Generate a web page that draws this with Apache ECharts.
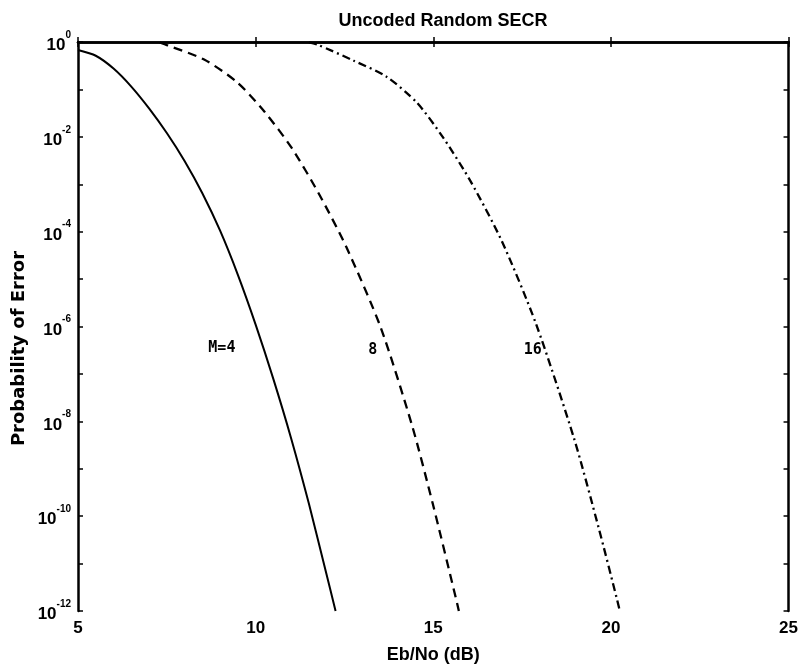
<!DOCTYPE html>
<html>
<head>
<meta charset="utf-8">
<script src="https://cdn.jsdelivr.net/npm/echarts@6/dist/echarts.min.js"></script>
<style>
  html, body { margin: 0; padding: 0; background: #fff; }
  #main { width: 801px; height: 669px; }
</style>
</head>
<body>
<div id="main"></div>
<script>
// Eb/No (dB) against log10 of the probability of error
var ebnoM4 = [5, 5.5, 6, 6.5, 7, 7.5, 8, 8.5, 9, 9.5, 10, 10.5, 11, 11.5, 12, 12.25];
var logPeM4 = [-0.17, -0.29, -0.56, -0.94, -1.4, -1.92, -2.51, -3.19, -3.98, -4.91, -5.96, -7.11, -8.36, -9.74, -11.24, -12];

var ebnoM8 = [7.3, 7.52, 8.55, 9.48, 10.25, 11.02, 11.78, 12.55, 13.52, 14.4, 14.99, 15.64, 15.72];
var logPeM8 = [-0.01, -0.07, -0.37, -0.85, -1.47, -2.24, -3.2, -4.32, -6.02, -8.08, -9.75, -11.74, -12];

var ebnoM16 = [11.5, 11.75, 12.75, 13.68, 14.54, 15.3, 16.06, 16.93, 17.89, 18.97, 19.66, 20.16, 20.25];
var logPeM16 = [-0.01, -0.06, -0.39, -0.73, -1.28, -2.04, -2.95, -4.2, -5.94, -8.38, -10.26, -11.72, -12];

var curveLabels = ['M=4', '8', '16'];
var labelX = [9.05, 13.3, 17.8];
var labelLogY = [-6.45, -6.5, -6.5];

function pairs(xs, ys) {
    return xs.map(function (x, i) { return [x, ys[i]]; });
}

var chart = echarts.init(document.getElementById('main'));

var font = 'Liberation Sans, Arial, sans-serif';
var axisBlack = { lineStyle: { color: '#000', width: 2.5 } };
var tickIn = { inside: true, length: 5, lineStyle: { color: '#000', width: 1.5 } };

var option = {
    backgroundColor: '#fff',
    animation: false,
    title: {
        text: 'Uncoded Random SECR',
        left: 438,
        textAlign: 'center',
        top: 7,
        textStyle: { fontFamily: font, fontSize: 18, fontWeight: 'bold', color: '#000' }
    },
    grid: { left: 78, right: 7, top: 42, bottom: 56 },
    xAxis: [
        {
            type: 'value',
            min: 5,
            max: 25,
            interval: 5,
            name: 'Eb/No (dB)',
            nameLocation: 'middle',
            nameGap: 35,
            nameTextStyle: { fontFamily: font, fontSize: 18, fontWeight: 'bold', color: '#000' },
            axisLine: axisBlack,
            axisTick: tickIn,
            axisLabel: { fontFamily: font, fontSize: 17, fontWeight: 'bold', color: '#000', margin: 9 },
            splitLine: { show: false }
        },
        {
            type: 'value',
            position: 'top',
            min: 5,
            max: 25,
            interval: 5,
            axisLine: axisBlack,
            axisTick: tickIn,
            axisLabel: { show: false },
            splitLine: { show: false }
        }
    ],
    yAxis: [
        {
            type: 'value',
            min: -12,
            max: 0,
            interval: 1,
            name: 'Probability of Error',
            nameLocation: 'middle',
            nameGap: 50,
            nameMoveOverlap: false,
            nameTextStyle: {
                fontFamily: 'DejaVu Sans, sans-serif', fontSize: 18, fontWeight: 'bold', color: '#000',
                padding: [0, 44, 0, 0]
            },
            axisLine: axisBlack,
            axisTick: tickIn,
            axisLabel: {
                margin: 7,
                formatter: function (v) {
                    if (Math.round(v) % 2 !== 0) return '';
                    return '{b|10}{s|' + (v === 0 ? '0' : String(v)) + '}';
                },
                rich: {
                    b: { fontFamily: font, fontSize: 17, fontWeight: 'bold', color: '#000', lineHeight: 24, verticalAlign: 'bottom' },
                    s: { fontFamily: font, fontSize: 10, fontWeight: 'bold', color: '#000', lineHeight: 24, verticalAlign: 'top' }
                }
            },
            splitLine: { show: false }
        },
        {
            type: 'value',
            position: 'right',
            min: -12,
            max: 0,
            interval: 1,
            axisLine: axisBlack,
            axisTick: tickIn,
            axisLabel: { show: false },
            splitLine: { show: false }
        }
    ],
    series: [
        {
            name: 'M=4',
            type: 'line',
            smooth: 0.25,
            showSymbol: false,
            lineStyle: { color: '#000', width: 2 },
            data: pairs(ebnoM4, logPeM4)
        },
        {
            name: 'M=8',
            type: 'line',
            smooth: 0.25,
            showSymbol: false,
            lineStyle: { color: '#000', width: 2.3, type: [9, 6] },
            data: pairs(ebnoM8, logPeM8)
        },
        {
            name: 'M=16',
            type: 'line',
            smooth: 0.25,
            showSymbol: false,
            lineStyle: { color: '#000', width: 2.3, type: [8, 4, 2, 4] },
            data: pairs(ebnoM16, logPeM16)
        },
        {
            name: 'labels',
            type: 'scatter',
            symbolSize: 0,
            silent: true,
            itemStyle: { opacity: 1 },
            label: {
                show: true,
                position: 'inside',
                formatter: function (p) { return p.data[2]; },
                fontFamily: 'DejaVu Sans Mono, monospace',
                fontSize: 15,
                fontWeight: 'bold',
                color: '#000',
                opacity: 1
            },
            data: curveLabels.map(function (t, i) {
                return [labelX[i], labelLogY[i], t];
            })
        }
    ]
};

chart.setOption(option);
</script>
</body>
</html>
